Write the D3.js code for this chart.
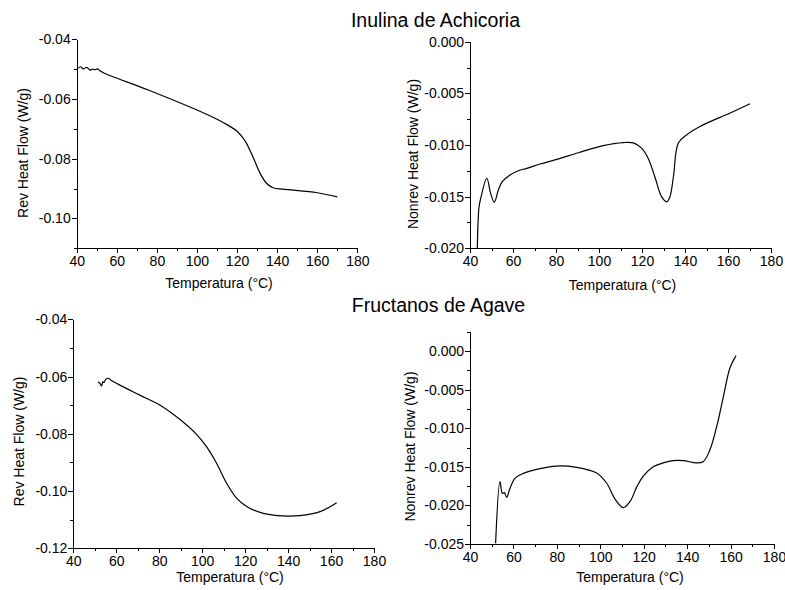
<!DOCTYPE html>
<html>
	<head>
		<meta charset="utf-8">
		<style type="text/css">
			body { margin: 0; background: white; font-family: "Liberation Sans", Arial, sans-serif; }
			.axis path, .axis line { stroke: black; stroke-width: 1; shape-rendering: crispEdges; }
			.axis text { font-size: 14px; font-family: "Liberation Sans", Arial, sans-serif; fill: black; }
			.curve { fill: none; stroke: black; stroke-width: 1.2; }
		</style>
		<title>Inulina de Achicoria / Fructanos de Agave</title>
	</head>
	<body>
		<div id="chart"></div>
		<script src="https://cdn.jsdelivr.net/npm/d3@7"></script>
		<script>

//// DATA
var xTicks = [40, 60, 80, 100, 120, 140, 160, 180];
var xMinorTicks = [50, 70, 90, 110, 130, 150, 170];

// Inulina de Achicoria - reversing heat flow
var tempRevInulina = [40.8, 42, 43.3, 45, 46.6, 48, 49.1, 50.3, 51.6, 53.3, 75.7, 100, 110, 116, 120, 124, 128, 131.5, 134.8, 138, 143, 160, 170];
var flowRevInulina = [-0.0497, -0.0492, -0.0499, -0.0494, -0.0503, -0.0500, -0.0502, -0.0499, -0.0505, -0.0512, -0.0570, -0.0637, -0.0668, -0.0690, -0.0708, -0.0740, -0.0795, -0.0849, -0.0883, -0.0897, -0.0902, -0.0914, -0.0928];
var ticksRevInulina = [-0.10, -0.08, -0.06, -0.04];

// Inulina de Achicoria - nonreversing heat flow
var tempNonrevInulina = [43.4, 44.2, 45, 47.8, 49.6, 51.3, 53.2, 55, 58.6, 62.5, 66.4, 72.6, 80.3, 90.4, 102, 111.3, 116, 119.8, 122.9, 126, 129.1, 131.5, 133, 134.6, 136.9, 140.8, 147, 161, 170.2];
var flowNonrevInulina = [-0.0200, -0.0160, -0.01516, -0.01322, -0.01468, -0.01555, -0.01436, -0.01355, -0.0129, -0.01249, -0.01226, -0.01184, -0.01139, -0.01075, -0.01006, -0.00977, -0.0098, -0.0103, -0.0113, -0.0131, -0.0150, -0.0155, -0.0150, -0.0131, -0.0098, -0.0090, -0.0082, -0.0069, -0.0060];
var ticksNonrevInulina = [-0.020, -0.015, -0.010, -0.005, 0.000];

// Fructanos de Agave - reversing heat flow
var tempRevAgave = [51.6, 52.4, 53.2, 53.7, 54.3, 55.1, 56.3, 57.4, 61.7, 71, 80.4, 89.7, 97.4, 102.1, 106.7, 111.4, 116, 120.7, 128.5, 137.8, 145.5, 154.9, 162.6];
var flowRevAgave = [-0.0618, -0.0624, -0.0633, -0.0618, -0.0621, -0.0610, -0.0606, -0.0612, -0.0630, -0.0665, -0.0700, -0.0750, -0.0802, -0.0846, -0.0903, -0.0973, -0.1025, -0.1054, -0.1078, -0.1087, -0.1086, -0.1072, -0.1041];
var ticksRevAgave = [-0.12, -0.10, -0.08, -0.06, -0.04];

// Fructanos de Agave - nonreversing heat flow
var tempNonrevAgave = [51.8, 53.8, 54.9, 55.8, 56.9, 58.4, 60.7, 64.6, 70.7, 79.9, 89.1, 98.3, 102.9, 106.8, 110.6, 113.7, 116.8, 119.8, 124.4, 129, 133.6, 138.2, 144.4, 147.5, 150.5, 153.6, 156.7, 159.7, 162.5];
var flowNonrevAgave = [-0.0249, -0.01693, -0.01843, -0.01835, -0.01895, -0.0178, -0.01649, -0.01585, -0.01533, -0.0149, -0.01507, -0.0158, -0.0171, -0.0192, -0.0203, -0.0195, -0.0176, -0.0162, -0.0150, -0.0145, -0.0142, -0.0142, -0.0145, -0.0143, -0.0128, -0.0098, -0.0059, -0.0022, -0.0006];
var ticksNonrevAgave = [-0.025, -0.020, -0.015, -0.010, -0.005, 0.000];
//// END DATA

var svg = d3.select('#chart').append('svg')
    .attr('width', 785)
    .attr('height', 590);

// one panel: pixel box, domains, ticks, labels
function drawPanel(p) {
    var x = d3.scaleLinear().domain([40, 180]).range([p.left, p.right]);
    var y = d3.scaleLinear().domain(p.yDomain).range([p.bottom, p.top]);

    // minor ticks first, without domain line
    svg.append('g').attr('class', 'axis')
        .attr('transform', 'translate(0,' + p.bottom + ')')
        .call(d3.axisBottom(x).tickValues(xMinorTicks).tickSize(3).tickFormat(''))
        .select('.domain').remove();
    svg.append('g').attr('class', 'axis')
        .attr('transform', 'translate(' + p.left + ',0)')
        .call(d3.axisLeft(y).tickValues(p.yMinor).tickSize(3).tickFormat(''))
        .select('.domain').remove();

    svg.append('g').attr('class', 'axis')
        .attr('transform', 'translate(0,' + p.bottom + ')')
        .call(d3.axisBottom(x).tickValues(xTicks).tickSize(5).tickSizeOuter(0).tickPadding(3));
    svg.append('g').attr('class', 'axis')
        .attr('transform', 'translate(' + p.left + ',0)')
        .call(d3.axisLeft(y).tickValues(p.yTicks).tickSize(5).tickSizeOuter(0).tickPadding(1)
            .tickFormat(d3.format(p.fmt)))
        .selectAll('text').text(function(d) { return d3.format(p.fmt)(d).replace('\u2212', '-'); });

    var pts = p.temp.map(function(t, i) { return [t, p.flow[i]]; });
    svg.append('path').datum(pts)
        .attr('class', 'curve')
        .attr('d', d3.line()
            .curve(d3.curveCatmullRom.alpha(0.5))
            .x(function(d) { return x(d[0]); })
            .y(function(d) { return y(d[1]); }));

    svg.append('text')
        .attr('x', p.xLabel[0]).attr('y', p.xLabel[1])
        .attr('text-anchor', 'middle')
        .style('font-size', '14px')
        .text('Temperatura (°C)');

    svg.append('text')
        .attr('transform', 'translate(' + p.yLabel[0] + ',' + p.yLabel[1] + ') rotate(-90)')
        .attr('text-anchor', 'middle')
        .style('font-size', '14px')
        .text(p.yTitle);
}

drawPanel({
    left: 76.7, right: 357.3, top: 39.3, bottom: 248.3,
    yDomain: [-0.11, -0.04], yTicks: ticksRevInulina, yMinor: [-0.11, -0.09, -0.07, -0.05], fmt: '.2f',
    temp: tempRevInulina, flow: flowRevInulina,
    xLabel: [219, 287.5], yLabel: [28, 153], yTitle: 'Rev Heat Flow (W/g)'
});
drawPanel({
    left: 470, right: 771, top: 41.7, bottom: 248.3,
    yDomain: [-0.020, 0.000], yTicks: ticksNonrevInulina, yMinor: [-0.0175, -0.0125, -0.0075, -0.0025], fmt: '.3f',
    temp: tempNonrevInulina, flow: flowNonrevInulina,
    xLabel: [622.5, 290], yLabel: [417.5, 154], yTitle: 'Nonrev Heat Flow (W/g)'
});
drawPanel({
    left: 73.3, right: 374, top: 319.3, bottom: 548.3,
    yDomain: [-0.12, -0.04], yTicks: ticksRevAgave, yMinor: [-0.11, -0.09, -0.07, -0.05], fmt: '.2f',
    temp: tempRevAgave, flow: flowRevAgave,
    xLabel: [230, 582], yLabel: [23.5, 441.5], yTitle: 'Rev Heat Flow (W/g)'
});
drawPanel({
    left: 470, right: 774, top: 331.7, bottom: 544,
    yDomain: [-0.025, 0.0025], yTicks: ticksNonrevAgave, yMinor: [-0.0225, -0.0175, -0.0125, -0.0075, -0.0025, 0.0025], fmt: '.3f',
    temp: tempNonrevAgave, flow: flowNonrevAgave,
    xLabel: [630, 582], yLabel: [415, 446.5], yTitle: 'Nonrev Heat Flow (W/g)'
});

// titles
svg.append('text').attr('x', 435.5).attr('y', 26.7)
    .attr('text-anchor', 'middle').style('font-size', '19.5px')
    .text('Inulina de Achicoria');
svg.append('text').attr('x', 438.5).attr('y', 312.3)
    .attr('text-anchor', 'middle').style('font-size', '19.5px')
    .text('Fructanos de Agave');
		</script>
	</body>
</html>
